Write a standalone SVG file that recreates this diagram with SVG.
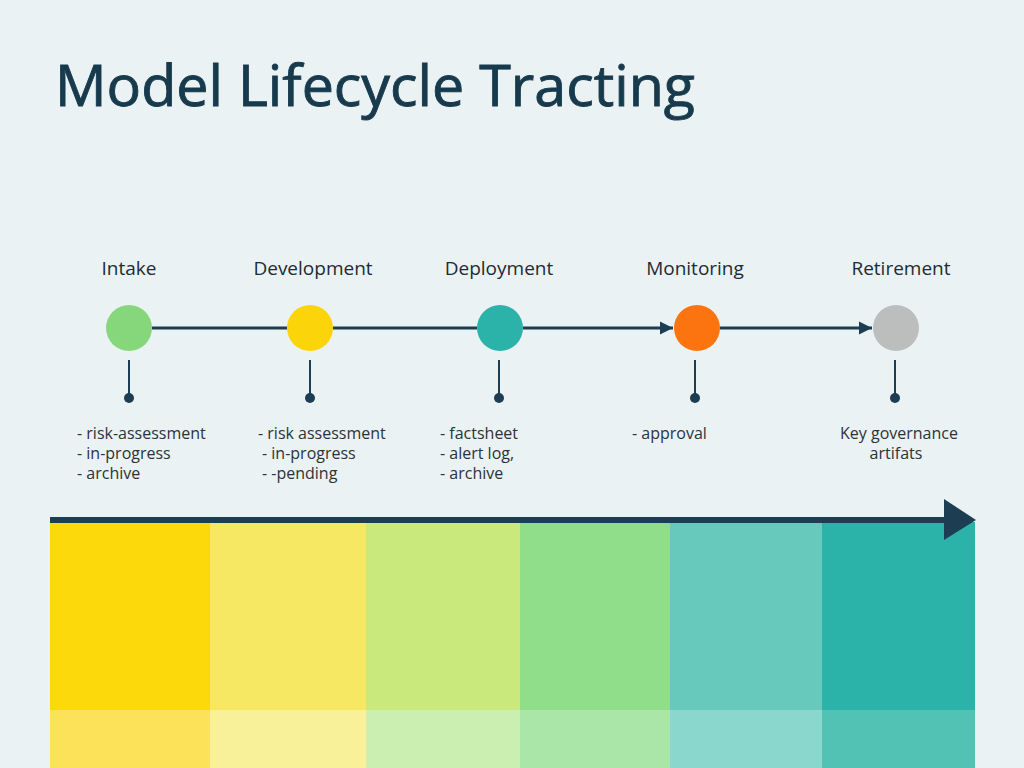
<svg xmlns="http://www.w3.org/2000/svg" width="1024" height="768" viewBox="0 0 1024 768">
<style>
.title{font-family:"Open Sans","Liberation Sans",sans-serif;font-size:56px;fill:#173a4d;stroke:#173a4d;stroke-width:0.9}
.stage{font-family:"Open Sans","Liberation Sans",sans-serif;font-size:19px;fill:#1e2b34;text-anchor:middle}
.item{font-family:"Open Sans","Liberation Sans",sans-serif;font-size:16px;fill:#2c3338}
.line{stroke:#1d3d52;stroke-width:3;fill:none}
.stem{stroke:#1d3d52;stroke-width:2;fill:none}
.dot{fill:#1d3d52}
</style>
<defs>
<marker id="arr" viewBox="0 0 10 10" refX="10" refY="5" markerWidth="4.5" markerHeight="4.5" orient="auto" markerUnits="strokeWidth">
<path d="M0,0 L10,5 L0,10 z" fill="#1d3d52"/>
</marker>
</defs>
<rect width="1024" height="768" fill="#eaf2f4"/>
<text class="title" x="55" y="106" textLength="640" lengthAdjust="spacingAndGlyphs">Model Lifecycle Tracting</text>

<g id="connectors">
<line class="line" x1="152" y1="328" x2="287" y2="328"/>
<line class="line" x1="333" y1="328" x2="477" y2="328"/>
<line class="line" x1="523" y1="328" x2="673" y2="328" marker-end="url(#arr)"/>
<line class="line" x1="720" y1="328" x2="872" y2="328" marker-end="url(#arr)"/>
</g>

<g id="intake">
<text class="stage" x="129" y="275">Intake</text>
<circle cx="129" cy="328" r="23" fill="#86d77c"/>
<line class="stem" x1="129" y1="360" x2="129" y2="397"/>
<circle class="dot" cx="129" cy="398" r="5"/>
<text class="item" x="77" y="439">- risk-assessment</text>
<text class="item" x="77" y="459">- in-progress</text>
<text class="item" x="77" y="479">- archive</text>
</g>
<g id="development">
<text class="stage" x="313" y="275">Development</text>
<circle cx="310" cy="328" r="23" fill="#fcd40a"/>
<line class="stem" x1="310" y1="360" x2="310" y2="397"/>
<circle class="dot" cx="310" cy="398" r="5"/>
<text class="item" x="258" y="439">- risk assessment</text>
<text class="item" x="262" y="459">- in-progress</text>
<text class="item" x="262" y="479">- -pending</text>
</g>
<g id="deployment">
<text class="stage" x="499" y="275">Deployment</text>
<circle cx="500" cy="328" r="23" fill="#2bb3aa"/>
<line class="stem" x1="499" y1="360" x2="499" y2="397"/>
<circle class="dot" cx="499" cy="398" r="5"/>
<text class="item" x="440" y="439">- factsheet</text>
<text class="item" x="440" y="459">- alert log,</text>
<text class="item" x="440" y="479">- archive</text>
</g>
<g id="monitoring">
<text class="stage" x="695" y="275">Monitoring</text>
<circle cx="697" cy="328" r="23" fill="#fc7410"/>
<line class="stem" x1="695" y1="360" x2="695" y2="397"/>
<circle class="dot" cx="695" cy="398" r="5"/>
<text class="item" x="632" y="439">- approval</text>
</g>
<g id="retirement">
<text class="stage" x="901" y="275">Retirement</text>
<circle cx="896" cy="328" r="23" fill="#bcbebe"/>
<line class="stem" x1="895" y1="360" x2="895" y2="397"/>
<circle class="dot" cx="895" cy="398" r="5"/>
<text class="item" x="899" y="439" text-anchor="middle">Key governance</text>
<text class="item" x="896" y="459" text-anchor="middle">artifats</text>
</g>

<g id="bands">
<rect x="50" y="522" width="160" height="188" fill="#fcd90a"/>
<rect x="210" y="522" width="156" height="188" fill="#f6e862"/>
<rect x="366" y="522" width="154" height="188" fill="#c9e97c"/>
<rect x="520" y="522" width="150" height="188" fill="#90de8a"/>
<rect x="670" y="522" width="152" height="188" fill="#67c9bb"/>
<rect x="822" y="522" width="153" height="188" fill="#2bb3a9"/>
<rect x="50" y="710" width="160" height="58" fill="#fbe258"/>
<rect x="210" y="710" width="156" height="58" fill="#f9f09a"/>
<rect x="366" y="710" width="154" height="58" fill="#cbeeb1"/>
<rect x="520" y="710" width="150" height="58" fill="#aae6a8"/>
<rect x="670" y="710" width="152" height="58" fill="#8ad7cd"/>
<rect x="822" y="710" width="153" height="58" fill="#52c2b5"/>
</g>
<g id="timeline">
<rect x="50" y="517" width="896" height="6" fill="#1d3d52"/>
<path d="M944,499 L976,520 L944,540 z" fill="#1d3d52"/>
</g>
</svg>
